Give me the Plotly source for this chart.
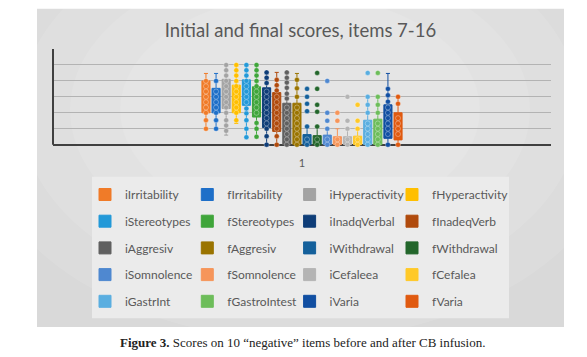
import plotly.graph_objects as go

# ---------------- data (y unit = 1/3 of a gridline) ----------------
category = "1"
series_names = ["iIrritability", "fIrritability", "iHyperactivity", "fHyperactivity",
                "iStereotypes", "fStereotypes", "iInadqVerbal", "fInadeqVerb",
                "iAggresiv", "fAggresiv", "iWithdrawal", "fWithdrawal",
                "iSomnolence", "fSomnolence", "iCefaleea", "fCefalea",
                "iGastrInt", "fGastroIntest", "iVaria", "fVaria"]
series_colors = ["#F07B28", "#1E6FC8", "#A3A3A3", "#FFBF00",
                 "#2399D8", "#3FA53A", "#0E3D78", "#B04A0C",
                 "#606060", "#9A7400", "#14609B", "#23662B",
                 "#4F88D0", "#F6955A", "#B4B4B4", "#FFC928",
                 "#5AAEE0", "#6DBD5A", "#114FA2", "#E05A10"]

box_q1 = [6, 6, 6.8, 6, 7.4, 5.2, 3.2, 2.5, 0, 0, 0, 0, 0, 0, 0, 0, 0, 0, 1.2, 0.9]
box_median = [9, 8, 9.5, 8.5, 10, 8, 7, 6, 3, 3, 0.5, 0.5, 0.5, 0.5, 0.5, 0.5, 2, 2, 4, 3]
box_q3 = [12, 10.6, 12.3, 11.2, 12.2, 10.9, 10.7, 9.8, 7.8, 7.8, 1.9, 1.7, 1.8, 1.5, 1.5, 1.6, 4.6, 4.8, 7.5, 6]
whisker_low = [3, 3, 1.8, 4, 1.4, 1.5, 0, 0, 0, 0, 0, 0, 0, 0, 0, 0, 0, 0, 0, 0]
whisker_high = [13.4, 13.4, 15, 15, 15, 15, 13.6, 13.6, 13.6, 13.4, 3.4, 3.4, 3, 3, 3, 3, 9, 9, 13.4, 9]

pts_i_irritability = [3, 4.6, 6, 7, 8, 9, 10, 11, 12]
pts_f_irritability = [3, 4.6, 6, 7, 8, 9, 10, 12]
pts_i_hyperactivity = [2.6, 3.6, 4.6, 6, 7, 8, 9, 10, 11, 12, 13, 14, 15]
pts_f_hyperactivity = [4.6, 6, 7, 8, 9, 10, 11, 12, 13, 14, 15]
pts_i_stereotypes = [1.4, 3, 4.6, 5.9, 6.8, 8, 9, 10, 11, 12, 13, 14, 15]
pts_f_stereotypes = [1.5, 3, 4.1, 6, 7, 8, 9, 10, 11, 12, 13, 14, 15]
pts_i_inadq_verbal = [0, 1.6, 3, 4, 5, 6, 7, 8, 9, 10, 11.6, 12.6, 13.6]
pts_f_inadeq_verb = [0, 1.6, 3, 4, 5, 6, 7, 8, 9, 10.2, 11.2, 12.2]
pts_i_aggresiv = [0, 1, 2, 3, 4, 5, 6, 7, 8.7, 9.6, 10.7, 11.7, 12.6, 13.6]
pts_f_aggresiv = [0, 1, 2, 3, 4, 5, 6, 7, 9, 10.6, 12.2]
pts_i_withdrawal = [0, 1, 3.4, 6.3, 7.7, 9.0, 10.5]
pts_f_withdrawal = [0, 1, 3.4, 6.2, 7.5, 10.5, 13.5]
pts_i_somnolence = [0, 1, 3, 4.5, 6, 12]
pts_f_somnolence = [0, 1, 4.5, 6]
pts_i_cefaleea = [0, 1, 3, 4.5, 9]
pts_f_cefalea = [0, 1, 3, 4.5, 7.5]
pts_i_gastr_int = [0, 1, 2, 3, 4, 6, 7.5, 9, 13.5]
pts_f_gastro_intest = [0, 1, 2, 3, 4, 6, 7.5, 9, 13.5]
pts_i_varia = [0, 2, 3, 4, 5, 6, 7, 8.1, 9.3, 10.5]
pts_f_varia = [0, 2, 3, 4, 5, 7.7, 9]

series_points = [pts_i_irritability, pts_f_irritability, pts_i_hyperactivity, pts_f_hyperactivity,
                 pts_i_stereotypes, pts_f_stereotypes, pts_i_inadq_verbal, pts_f_inadeq_verb,
                 pts_i_aggresiv, pts_f_aggresiv, pts_i_withdrawal, pts_f_withdrawal,
                 pts_i_somnolence, pts_f_somnolence, pts_i_cefaleea, pts_f_cefalea,
                 pts_i_gastr_int, pts_f_gastro_intest, pts_i_varia, pts_f_varia]

# ---------------- layout geometry ----------------
W, H = 587, 357
L, R, T, B = 53, 36, 49, 207
PW, PH = W - L - R, H - T - B
N_COLS = 4


def xp(px):
    return (px - L) / PW


def yp(py):
    return (H - B - py) / PH


TXT = "#595959"
FONT = "Lato"

fig = go.Figure()

# boxes (precomputed statistics)
for i, name in enumerate(series_names):
    c = series_colors[i]
    col = i % N_COLS
    fig.add_trace(go.Box(
        x=[category], q1=[box_q1[i]], median=[box_median[i]], q3=[box_q3[i]],
        lowerfence=[whisker_low[i]], upperfence=[whisker_high[i]],
        name=name, offsetgroup=str(i), fillcolor=c, line=dict(color=c, width=1),
        whiskerwidth=0.5, boxpoints=False, hoverinfo="skip",
        legendgroup="g%d" % i,
        legend="legend" if col == 0 else "legend%d" % (col + 1),
    ))

# data points drawn on top of the boxes
for i, name in enumerate(series_names):
    c = series_colors[i]
    fig.add_trace(go.Box(
        x=[category] * len(series_points[i]), y=series_points[i],
        name=name, offsetgroup=str(i), showlegend=False,
        fillcolor="rgba(0,0,0,0)", line=dict(color="rgba(0,0,0,0)", width=0),
        boxpoints="all", jitter=0, pointpos=0, hoverinfo="skip",
        marker=dict(color=c, size=5, line=dict(color="rgba(255,255,255,0.55)", width=0.6)),
    ))

legend_cols_x = [85, 187.3, 289.6, 392]
legend_center_y = 248
legends = {}
for col, cx in enumerate(legend_cols_x):
    key = "legend" if col == 0 else "legend%d" % (col + 1)
    legends[key] = dict(
        orientation="v", xref="paper", yref="container",
        x=xp(cx), xanchor="left", y=1 - legend_center_y / H, yanchor="middle",
        traceorder="grouped", tracegroupgap=7.7,
        bgcolor="rgba(0,0,0,0)", font=dict(family=FONT, size=12, color=TXT),
    )

# chart panel with a soft lighter centre
shapes = [
    dict(type="rect", xref="paper", yref="paper", x0=xp(37), x1=xp(564), y0=yp(327), y1=yp(8.5),
         fillcolor="#d9d9d9", line=dict(width=0), layer="below"),
]
for rx, ry, op in [(330, 230, 0.10), (280, 190, 0.10), (230, 150, 0.10), (180, 115, 0.10)]:
    shapes.append(dict(type="circle", xref="paper", yref="paper",
                       x0=xp(300 - rx), x1=xp(300 + rx), y0=yp(110 + ry), y1=yp(110 - ry),
                       fillcolor="rgba(255,255,255,%g)" % op, line=dict(width=0), layer="below"))
shapes += [
    dict(type="rect", xref="paper", yref="paper", x0=xp(92), x1=xp(509), y0=yp(318.3), y1=yp(176.7),
         fillcolor="#ebebeb", line=dict(width=0), layer="below"),
    dict(type="line", xref="paper", yref="y", x0=0, x1=0, y0=0, y1=18,
         line=dict(color="#404040", width=2)),
]
# white page outside the panel (covers the soft-centre ellipses)
shapes += [
    dict(type="rect", xref="paper", yref="paper", x0=xp(0), x1=xp(37), y0=yp(357), y1=yp(0),
         fillcolor="white", line=dict(width=0), layer="below"),
    dict(type="rect", xref="paper", yref="paper", x0=xp(564), x1=xp(587), y0=yp(357), y1=yp(0),
         fillcolor="white", line=dict(width=0), layer="below"),
    dict(type="rect", xref="paper", yref="paper", x0=xp(0), x1=xp(587), y0=yp(8.5), y1=yp(0),
         fillcolor="white", line=dict(width=0), layer="below"),
    dict(type="rect", xref="paper", yref="paper", x0=xp(0), x1=xp(587), y0=yp(357), y1=yp(327),
         fillcolor="white", line=dict(width=0), layer="below"),
]

fig.update_layout(
    width=W, height=H,
    margin=dict(l=L, r=R, t=T, b=B, pad=0),
    paper_bgcolor="white", plot_bgcolor="rgba(0,0,0,0)",
    boxmode="group", boxgap=0.594, boxgroupgap=0.2,
    title=dict(text="Initial and final scores, items 7-16", xref="container", yref="container",
               x=300.5 / W, y=1 - 31 / H, xanchor="center", yanchor="middle",
               font=dict(family=FONT, size=18.5, color=TXT)),
    xaxis=dict(type="category", range=[-0.5, 0.5], showgrid=False, showline=False,
               ticks="", tickfont=dict(family=FONT, size=11, color=TXT), ticklabelstandoff=5),
    yaxis=dict(range=[-1, 18], tick0=0, dtick=3, showticklabels=False, ticks="",
               showgrid=True, gridcolor="#b3b3b3", gridwidth=1.3,
               zeroline=True, zerolinecolor="#404040", zerolinewidth=2, showline=False),
    shapes=shapes,
    annotations=[dict(xref="paper", yref="paper", x=xp(302), y=yp(342), showarrow=False,
                      xanchor="center", yanchor="middle",
                      text="<b>Figure 3.</b> Scores on 10 \u201cnegative\u201d items before and after CB infusion.",
                      font=dict(family="Liberation Serif", size=13, color="#222222"))],
    showlegend=True,
    **legends,
)

fig.write_html("out.html", config={"displayModeBar": False},
               post_script="document.body.style.margin='0px';")
